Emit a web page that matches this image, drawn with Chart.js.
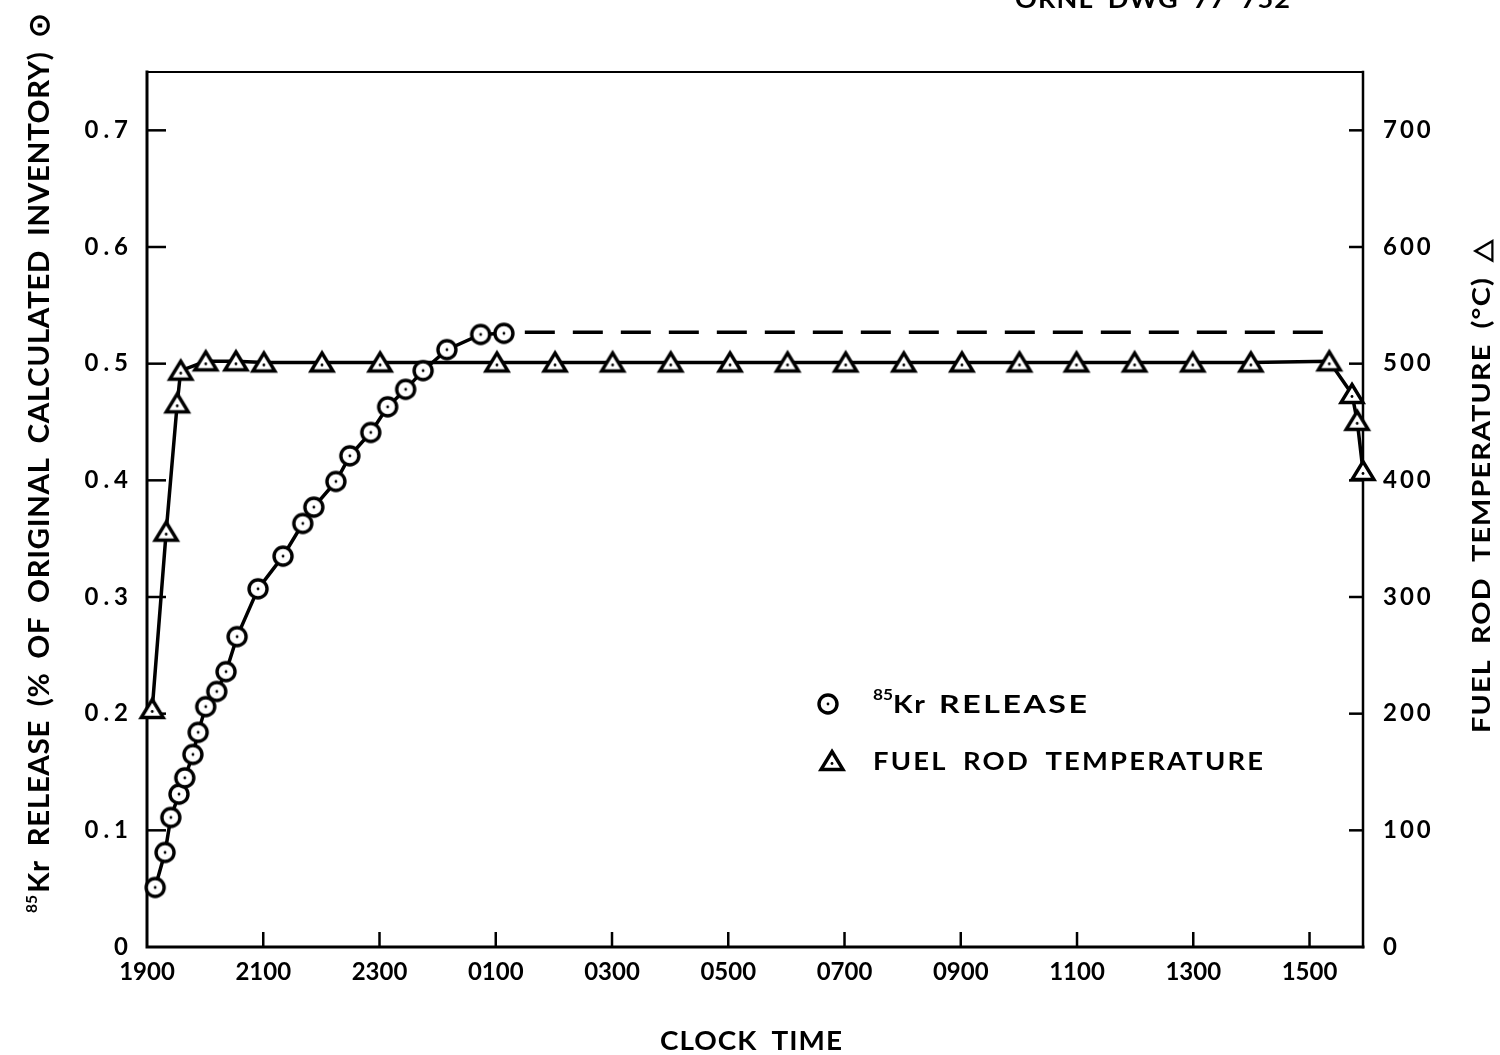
<!DOCTYPE html>
<html><head><meta charset="utf-8">
<script src="https://cdn.jsdelivr.net/npm/chart.js@4.4.1/dist/chart.umd.min.js"></script>
<style>html,body{margin:0;padding:0;background:#fff;} canvas{display:block}</style>
</head><body>
<canvas id="c" width="1500" height="1055"></canvas>
<script>
// ---- data ----
const xTickValues = [0, 2, 4, 6, 8, 10, 12, 14, 16, 18, 20];           // hours after 1900
const xTickLabels = ['1900','2100','2300','0100','0300','0500','0700','0900','1100','1300','1500'];
const leftTickValues = [0, 0.1, 0.2, 0.3, 0.4, 0.5, 0.6, 0.7];
const leftTickLabels = ['0','0.1','0.2','0.3','0.4','0.5','0.6','0.7'];
const rightTickValues = [0, 100, 200, 300, 400, 500, 600, 700];
const rightTickLabels = ['0','100','200','300','400','500','600','700'];

const krHours   = [0.14,0.31,0.41,0.55,0.65,0.79,0.88,1.01,1.20,1.36,1.55,1.91,2.34,2.68,2.87,3.25,3.49,3.85,4.14,4.45,4.75,5.16,5.74,6.14];
const krRelease = [0.051,0.081,0.111,0.131,0.145,0.165,0.184,0.206,0.219,0.236,0.266,0.307,0.335,0.363,0.377,0.399,0.421,0.441,0.463,0.478,0.494,0.512,0.525,0.526];

const dashHours   = [6.5, 20.38];
const dashRelease = [0.527, 0.527];

const tempHours  = [0.09,0.33,0.52,0.58,1.01,1.53,2.01,3.01,4.01,6.02,7.02,8.01,9.01,10.03,11.02,12.02,13.02,14.02,15.01,15.99,16.99,17.99,18.99,20.34,20.73,20.82,20.92];
const tempValues = [204,356,466,494,502,502,501,501,501,501,501,501,501,501,501,501,501,501,501,501,501,501,501,502,474,451,408];

const X_MAX = 20.92, Y_MAX = 0.75, Y1_MAX = 750;

// ---- markers ----
function makeCircle(){
  const c=document.createElement('canvas'); c.width=28; c.height=28;
  const g=c.getContext('2d');
  g.beginPath(); g.arc(14,14,9,0,2*Math.PI); g.fillStyle='#fff'; g.fill();
  g.lineWidth=3.4; g.strokeStyle='#000'; g.stroke();
  g.beginPath(); g.arc(14,14,1.4,0,2*Math.PI); g.fillStyle='#000'; g.fill();
  return c;
}
function makeTriangle(){
  const c=document.createElement('canvas'); c.width=30; c.height=28;
  const g=c.getContext('2d');
  g.beginPath(); g.moveTo(15,4.5); g.lineTo(26,22.5); g.lineTo(4,22.5); g.closePath();
  g.fillStyle='#fff'; g.fill(); g.lineWidth=3.4; g.lineJoin='miter'; g.strokeStyle='#000'; g.stroke();
  g.beginPath(); g.arc(15,16.5,1.4,0,2*Math.PI); g.fillStyle='#000'; g.fill();
  return c;
}
const circleImg = makeCircle();
const triImg = makeTriangle();

const FONT = 'Lato';

function fitText(ctx, text, x, y, width, fontPx, align, ls, ws){
  ctx.save();
  ctx.font = 'bold ' + fontPx + 'px "' + FONT + '"';
  ctx.letterSpacing = (ls || 0) + 'px';
  ctx.wordSpacing = (ws || 0) + 'px';
  const w = ctx.measureText(text).width - (ls || 0);
  const s = width / w;
  ctx.translate(x, y); ctx.scale(s, 1);
  ctx.textAlign = 'left'; ctx.textBaseline = 'alphabetic'; ctx.fillStyle = '#000';
  const ox = align === 'center' ? -w/2 : (align === 'right' ? -w : 0);
  ctx.fillText(text, ox, 0);
  ctx.restore();
}

function spaceLabels(scale, spacing){
  if (scale._spaced) return;
  const orig = scale.drawLabels;
  scale.drawLabels = function(area){
    const c = this.ctx; const prev = c.letterSpacing;
    c.letterSpacing = spacing; orig.call(this, area); c.letterSpacing = prev || '0px';
  };
  scale._spaced = true;
}

const decor = {
  id: 'decor',
  beforeDraw(chart){
    spaceLabels(chart.scales.y, '5px');
    spaceLabels(chart.scales.y1, '3px');
    spaceLabels(chart.scales.x, '0px');
  },
  beforeDatasetsDraw(chart){
    const ctx = chart.ctx, a = chart.chartArea;
    const sx = chart.scales.x, sy = chart.scales.y, sy1 = chart.scales.y1;
    ctx.save();
    ctx.strokeStyle = '#000'; ctx.lineCap = 'square';
    ctx.lineWidth = 2; ctx.beginPath(); ctx.moveTo(a.left, a.top); ctx.lineTo(a.right, a.top); ctx.stroke();
    ctx.lineWidth = 3;
    ctx.beginPath(); ctx.moveTo(a.left, a.top); ctx.lineTo(a.left, a.bottom); ctx.lineTo(a.right, a.bottom); ctx.stroke();
    ctx.lineWidth = 2.5;
    ctx.beginPath(); ctx.moveTo(a.right, a.top); ctx.lineTo(a.right, a.bottom); ctx.stroke();
    ctx.lineWidth = 2.5; ctx.lineCap = 'butt';
    xTickValues.forEach(v => { if (v===0) return; const px = sx.getPixelForValue(v);
      ctx.beginPath(); ctx.moveTo(px, a.bottom); ctx.lineTo(px, a.bottom - 15); ctx.stroke(); });
    leftTickValues.forEach(v => { if (v===0) return; const py = sy.getPixelForValue(v);
      ctx.beginPath(); ctx.moveTo(a.left, py); ctx.lineTo(a.left + 19, py); ctx.stroke(); });
    rightTickValues.forEach(v => { if (v===0) return; const py = sy1.getPixelForValue(v);
      ctx.beginPath(); ctx.moveTo(a.right, py); ctx.lineTo(a.right - 14, py); ctx.stroke(); });
    ctx.restore();
  },
  afterDraw(chart){
    const ctx = chart.ctx;
    ctx.save();
    ctx.fillStyle = '#000';
    fitText(ctx, 'ORNL DWG 77 752', 1290, 8, 275, 25, 'right', 1, 6);
    fitText(ctx, 'CLOCK TIME', 751, 1050, 182, 27, 'center', 1, 6);
    // left title (rotated, reading bottom-to-top)
    ctx.save();
    ctx.translate(49, 913); ctx.rotate(-Math.PI/2);
    fitText(ctx, '85', 0, -12, 18, 16, 'left');
    fitText(ctx, 'Kr RELEASE (% OF ORIGINAL CALCULATED INVENTORY) \u2299', 20, 0, 880, 29, 'left', 0.5, 6);
    ctx.restore();
    // right title
    ctx.save();
    ctx.translate(1490, 733); ctx.rotate(-Math.PI/2);
    fitText(ctx, 'FUEL ROD TEMPERATURE (\u00B0C) \u25B3', 0, 0, 493, 25, 'left', 1, 6);
    ctx.restore();
    // legend
    ctx.drawImage(circleImg, 828 - circleImg.width/2, 704 - circleImg.height/2);
    ctx.drawImage(triImg, 832 - triImg.width/2, 761 - triImg.height/2);
    fitText(ctx, '85', 873, 700, 20, 15, 'left');
    fitText(ctx, 'Kr', 893, 713, 32, 25, 'left', 1.5);
    fitText(ctx, 'RELEASE', 939, 713, 148, 25, 'left', 2);
    fitText(ctx, 'FUEL ROD TEMPERATURE', 873, 770, 390, 25, 'left', 2, 6);
    ctx.restore();
  }
};

const tickFont = { family: FONT, size: 24, weight: 'bold' };

new Chart(document.getElementById('c'), {
  type: 'line',
  data: {
    datasets: [
      { label: '85Kr release', yAxisID: 'y',
        data: krHours.map((h, i) => ({ x: h, y: krRelease[i] })),
        borderColor: '#000', borderWidth: 3.5, pointStyle: circleImg, pointRadius: 10,
        tension: 0, clip: false },
      { label: 'Kr release (extrapolated)', yAxisID: 'y',
        data: dashHours.map((h, i) => ({ x: h, y: dashRelease[i] })),
        borderColor: '#000', borderWidth: 3.5, borderDash: [30, 18], pointRadius: 0, clip: false },
      { label: 'Fuel rod temperature', yAxisID: 'y1',
        data: tempHours.map((h, i) => ({ x: h, y: tempValues[i] })),
        borderColor: '#000', borderWidth: 3.5, pointStyle: triImg, pointRadius: 10,
        tension: 0, clip: false }
    ]
  },
  options: {
    responsive: false, animation: false, devicePixelRatio: 1,
    layout: { padding: { top: 72, left: 0, right: 0, bottom: 0 } },
    plugins: { legend: { display: false }, tooltip: { enabled: false } },
    scales: {
      x: { type: 'linear', position: 'bottom', min: 0, max: X_MAX,
        grid: { display: false, drawTicks: false }, border: { display: false },
        afterBuildTicks: s => { s.ticks = xTickValues.map(v => ({ value: v })); },
        afterFit: s => { s.height = 108; },
        ticks: { padding: 11, font: tickFont, color: '#000', maxRotation: 0, autoSkip: false,
          callback: (v, i) => xTickLabels[i] } },
      y: { type: 'linear', position: 'left', min: 0, max: Y_MAX,
        grid: { display: false, drawTicks: false }, border: { display: false },
        afterBuildTicks: s => { s.ticks = leftTickValues.map(v => ({ value: v })); },
        afterFit: s => { s.width = 147; },
        ticks: { padding: 14, font: tickFont, color: '#000', autoSkip: false,
          callback: (v, i) => leftTickLabels[i] } },
      y1: { type: 'linear', position: 'right', min: 0, max: Y1_MAX,
        grid: { display: false, drawTicks: false }, border: { display: false },
        afterBuildTicks: s => { s.ticks = rightTickValues.map(v => ({ value: v })); },
        afterFit: s => { s.width = 137; },
        ticks: { padding: 20, font: tickFont, color: '#000', autoSkip: false,
          callback: (v, i) => rightTickLabels[i] } }
    }
  },
  plugins: [decor]
});
</script>
</body></html>
